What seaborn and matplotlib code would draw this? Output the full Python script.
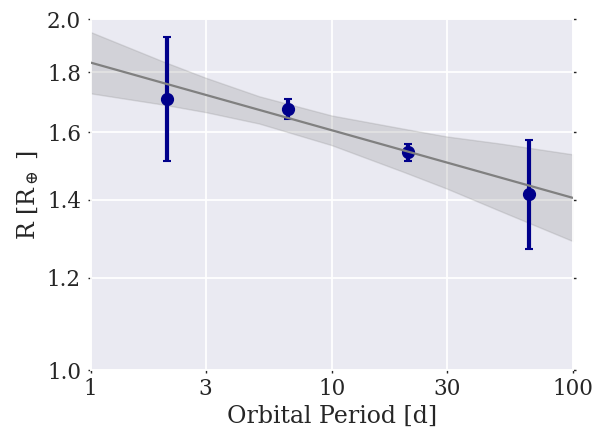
import matplotlib
matplotlib.use("Agg")
import matplotlib.pyplot as plt
from matplotlib.ticker import FixedLocator, FixedFormatter, NullLocator, NullFormatter
import seaborn as sns
import pandas as pd

# Binned planet radii versus orbital period
period_bins = [2.07, 6.57, 20.8, 65.9]
radius_mean = [1.707, 1.674, 1.537, 1.416]
radius_low = [1.510, 1.643, 1.511, 1.270]
radius_high = [1.931, 1.709, 1.562, 1.575]

# Power-law fit and its confidence band
fit_period = [1, 100]
fit_radius = [1.835, 1.405]
band_period = [1, 2, 3, 5, 10, 20, 30, 50, 100]
band_upper = [1.949, 1.839, 1.781, 1.717, 1.653, 1.610, 1.586, 1.564, 1.531]
band_lower = [1.727, 1.689, 1.664, 1.627, 1.559, 1.478, 1.431, 1.369, 1.290]

x_ticks = [1, 3, 10, 30, 100]
x_tick_labels = ["1", "3", "10", "30", "100"]
y_ticks = [1.0, 1.2, 1.4, 1.6, 1.8, 2.0]
y_tick_labels = ["1.0", "1.2", "1.4", "1.6", "1.8", "2.0"]

sns.set_theme(style="darkgrid")
plt.rcParams["font.family"] = ["DejaVu Serif"]
plt.rcParams["mathtext.fontset"] = "dejavuserif"

fig = plt.figure(figsize=(6.11, 4.30), dpi=100)
ax = fig.add_axes([0.1484, 0.1395, 0.7889, 0.8163])

ax.fill_between(band_period, band_lower, band_upper, facecolor="gray",
                edgecolor="gray", alpha=0.22, linewidth=1.0, zorder=2)

yerr = [[m - lo for m, lo in zip(radius_mean, radius_low)],
        [hi - m for m, hi in zip(radius_mean, radius_high)]]
ax.errorbar(period_bins, radius_mean, yerr=yerr, fmt="o", color="#00008B",
            markersize=8.5, elinewidth=3, capsize=2.6, capthick=1.5, zorder=3)

fit_df = pd.DataFrame({"period": fit_period, "radius": fit_radius})
sns.lineplot(data=fit_df, x="period", y="radius", color="gray",
             linewidth=1.6, ax=ax, zorder=4)

ax.set_xscale("log")
ax.set_yscale("log")
ax.set_xlim(1, 100)
ax.set_ylim(1.0, 2.0)
ax.xaxis.set_major_locator(FixedLocator(x_ticks))
ax.xaxis.set_major_formatter(FixedFormatter(x_tick_labels))
ax.yaxis.set_major_locator(FixedLocator(y_ticks))
ax.yaxis.set_major_formatter(FixedFormatter(y_tick_labels))
for axis in (ax.xaxis, ax.yaxis):
    axis.set_minor_locator(NullLocator())
    axis.set_minor_formatter(NullFormatter())

ax.tick_params(axis="both", which="major", labelsize=15.5, length=2, width=1,
               color="#262626", labelcolor="#262626",
               bottom=True, left=True, right=True)
ax.tick_params(axis="y", pad=5)
ax.tick_params(axis="x", pad=4)
ax.grid(True, color="white", linewidth=1.3)

ax.set_xlabel("Orbital Period [d]", fontsize=17, color="#262626", labelpad=3)
ax.set_ylabel(r"R [R$_\oplus$ ]", fontsize=17, color="#262626", labelpad=4)

fig.savefig("out.png", dpi=100)
